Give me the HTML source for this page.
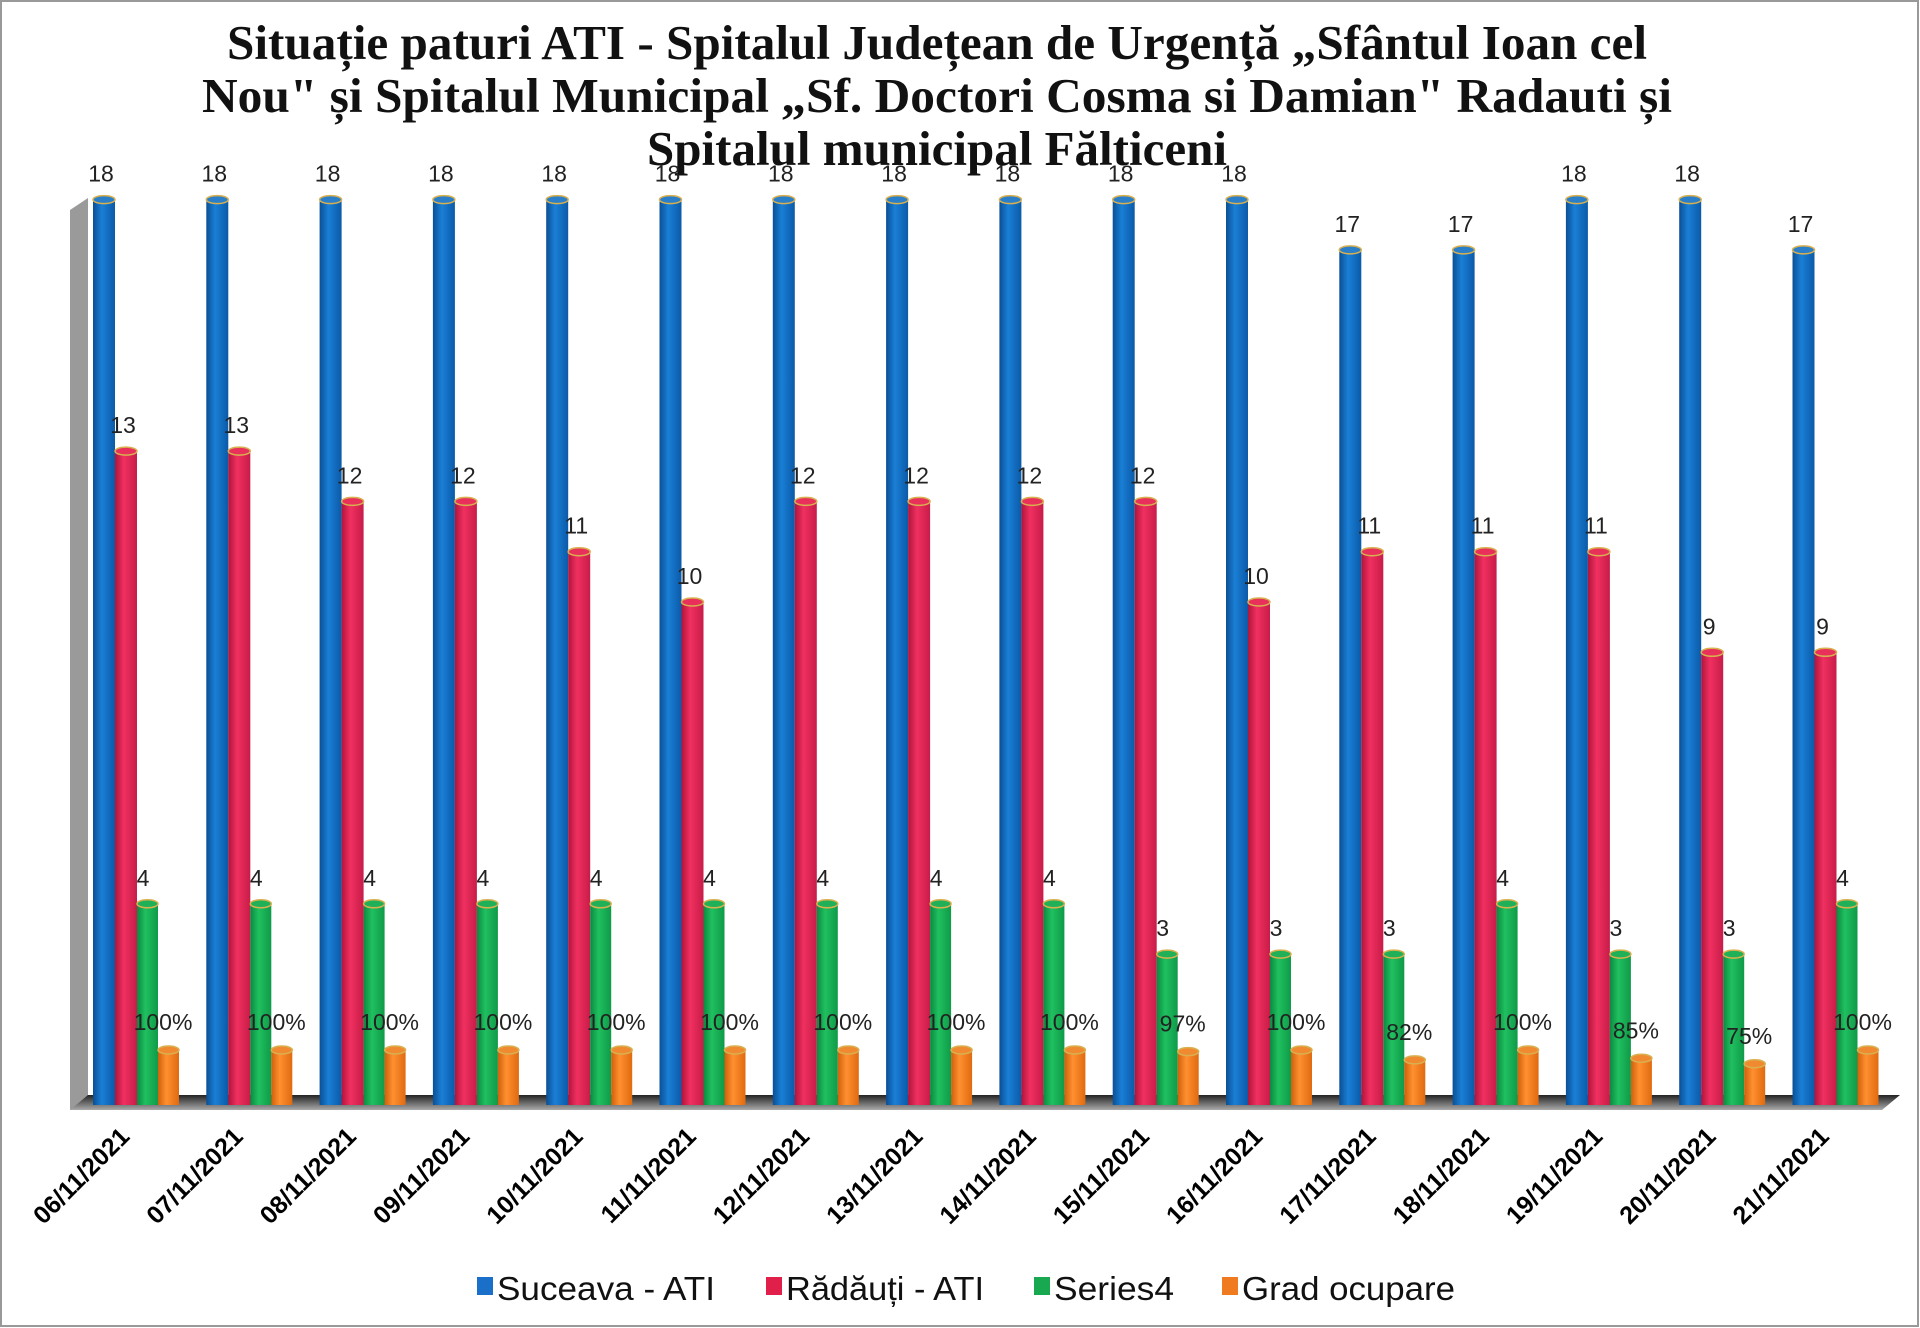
<!DOCTYPE html>
<html><head><meta charset="utf-8"><style>
html,body{margin:0;padding:0;background:#fff;}
svg{display:block;}
</style></head><body>
<svg id="c" width="1920" height="1328" xmlns="http://www.w3.org/2000/svg">
<defs>
<linearGradient id="gb" x1="0" x2="1"><stop offset="0" stop-color="#0a4f95"/><stop offset="0.4" stop-color="#1a7fd6"/><stop offset="1" stop-color="#0b5aa8"/></linearGradient>
<linearGradient id="gr" x1="0" x2="1"><stop offset="0" stop-color="#b0143a"/><stop offset="0.4" stop-color="#f03060"/><stop offset="1" stop-color="#c81c48"/></linearGradient>
<linearGradient id="gg" x1="0" x2="1"><stop offset="0" stop-color="#0a8a40"/><stop offset="0.4" stop-color="#20c060"/><stop offset="1" stop-color="#0f9a48"/></linearGradient>
<linearGradient id="go" x1="0" x2="1"><stop offset="0" stop-color="#d0600a"/><stop offset="0.4" stop-color="#ff9030"/><stop offset="1" stop-color="#e06a10"/></linearGradient>
<linearGradient id="fl" x1="0" y1="0" x2="0" y2="1"><stop offset="0" stop-color="#222"/><stop offset="1" stop-color="#aaa"/></linearGradient>
</defs>
<rect x="1" y="1" width="1917" height="1325" fill="#fff" stroke="#999" stroke-width="2"/>
<g font-family="'Liberation Serif',serif" font-weight="bold" font-size="49" text-anchor="middle" fill="#111">
<text x="937" y="59" textLength="1420" lengthAdjust="spacingAndGlyphs">Situație paturi ATI - Spitalul Județean de Urgență „Sfântul Ioan cel</text>
<text x="937" y="112" textLength="1470" lengthAdjust="spacingAndGlyphs">Nou"  și Spitalul Municipal „Sf. Doctori Cosma si Damian" Radauti și</text>
<text x="937" y="165">Spitalul municipal Fălticeni</text>
</g>
<polygon points="70,210 88,198 88,1100 70,1110" fill="#9a9a9a"/>
<polygon points="70,1110 88,1095 1900,1095 1882,1110" fill="url(#fl)"/>
<g id="bars"></g>
<g font-family="'Liberation Sans',sans-serif" font-size="33" fill="#111">
<rect x="477" y="1277" width="16" height="18" fill="#1a70c8"/><text x="497" y="1300" textLength="218" lengthAdjust="spacingAndGlyphs">Suceava - ATI</text>
<rect x="766" y="1277" width="16" height="18" fill="#e0204a"/><text x="786" y="1300" textLength="198" lengthAdjust="spacingAndGlyphs">Rădăuți - ATI</text>
<rect x="1034" y="1277" width="16" height="18" fill="#18a850"/><text x="1054" y="1300" textLength="120" lengthAdjust="spacingAndGlyphs">Series4</text>
<rect x="1222" y="1277" width="16" height="18" fill="#f07a20"/><text x="1242" y="1300" textLength="213" lengthAdjust="spacingAndGlyphs">Grad ocupare</text>
</g>
</svg>
<script>
var B=[18,18,18,18,18,18,18,18,18,18,18,17,17,18,18,17];
var R=[13,13,12,12,11,10,12,12,12,12,10,11,11,11,9,9];
var G=[4,4,4,4,4,4,4,4,4,3,3,3,4,3,3,4];
var P=[100,100,100,100,100,100,100,100,100,97,100,82,100,85,75,100];
var D=["06","07","08","09","10","11","12","13","14","15","16","17","18","19","20","21"];
var base=1105,u=50.3,s="";
function cyl(x,w,h,g,top){
 var y=base-h;
 return '<rect x="'+x+'" y="'+y+'" width="'+w+'" height="'+h+'" fill="url(#'+g+')"/>'+
 '<ellipse cx="'+(x+w/2)+'" cy="'+y+'" rx="'+(w/2)+'" ry="4" fill="'+top+'" stroke="#d8b050" stroke-width="1.5"/>';
}
function lab(x,y,t){return '<text x="'+x+'" y="'+y+'" text-anchor="middle" font-family="Liberation Sans,sans-serif" font-size="23" fill="#222">'+t+'</text>';}
for(var i=0;i<16;i++){
 var x=93+i*113.3;
 s+=cyl(x,22,B[i]*u,"gb","#2a7fc8");
 s+=cyl(x+22,22,R[i]*u,"gr","#e8305a");
 s+=cyl(x+44,21,G[i]*u,"gg","#20b058");
 s+=cyl(x+65,21,P[i]*0.55,"go","#f08a30");
 s+=lab(x+8,base-B[i]*u-18,B[i]);
 s+=lab(x+30,base-R[i]*u-18,R[i]);
 s+=lab(x+50,base-G[i]*u-18,G[i]);
 s+=lab(x+70,base-P[i]*0.55-20,P[i]+"%");
 s+='<text transform="translate('+(x+38)+',1138) rotate(-45)" text-anchor="end" font-family="Liberation Sans,sans-serif" font-weight="bold" font-size="25" fill="#000">'+D[i]+'/11/2021</text>';
}
document.getElementById("bars").innerHTML=s;
</script>
</body></html>
